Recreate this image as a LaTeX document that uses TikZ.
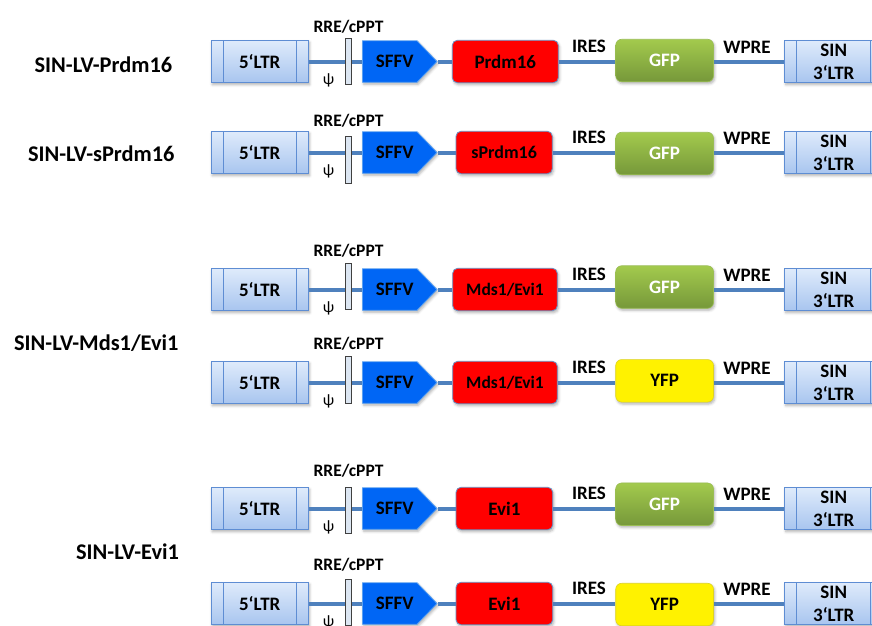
\documentclass[tikz,border=0pt]{standalone}
\usepackage{fontspec}
\setmainfont{Carlito}
\usetikzlibrary{shadows.blur,calc}
\definecolor{ltrtop}{HTML}{DFEBFB}
\definecolor{ltrbot}{HTML}{A8C5EF}
\definecolor{ltrline}{HTML}{5E8DD3}
\definecolor{bbone}{HTML}{4F81BD}
\definecolor{sffvfill}{HTML}{0066F5}
\definecolor{sffvline}{HTML}{5AA0F0}
\definecolor{gfptop}{HTML}{A3CA4D}
\definecolor{gfpbot}{HTML}{76983A}
\definecolor{gfpline}{HTML}{9ABD55}
\definecolor{barfill}{HTML}{DCE6F2}
\tikzset{
  fs/.style={font=\fontsize{#1}{#1}\selectfont\bfseries},
  shade box/.style={blur shadow={shadow xshift=1.2pt, shadow yshift=-2pt, shadow blur radius=2.5pt, shadow opacity=30}},
  ltrbox/.style={draw=ltrline, line width=0.8pt, top color=ltrtop, bottom color=ltrbot,
    minimum height=42.5pt, inner sep=0pt, fs=19, shade box,
    path picture={\draw[ltrline, line width=0.8pt]
      ([xshift=12.3pt]path picture bounding box.north west) -- ([xshift=12.3pt]path picture bounding box.south west)
      ([xshift=-12.3pt]path picture bounding box.north east) -- ([xshift=-12.3pt]path picture bounding box.south east);}},
  sinbox/.style={ltrbox, align=center, font=\fontsize{19}{23}\selectfont\bfseries},
  psi/.style={font=\fontsize{16}{16}\selectfont, inner sep=0pt},
  barbox/.style={draw=black!75, line width=0.8pt, fill=barfill, minimum width=6.5pt, minimum height=46.5pt, inner sep=0pt},
  sffvshape/.style={fill=sffvfill, draw=sffvline, line width=0.8pt, shade box},
  sffvtext/.style={minimum width=64.5pt, minimum height=41.5pt, inner sep=0pt, fs=19},
  redbox/.style={fill=red, draw=bbone!85, line width=0.8pt, rounded corners=5pt, minimum height=42.5pt, inner sep=0pt, fs=19, shade box},
  gfpbox/.style={top color=gfptop, bottom color=gfpbot, draw=gfpline, line width=0.6pt, rounded corners=6pt,
    minimum width=97.8pt, minimum height=42.5pt, inner sep=0pt, fs=19, text=white, shade box},
  yfpbox/.style={fill=yellow, draw=yellow!85!black, line width=0.6pt, rounded corners=6pt,
    minimum width=97.8pt, minimum height=42.5pt, inner sep=0pt, fs=19, shade box},
  lbl/.style={inner sep=0pt, fs=19},
  rrelbl/.style={inner sep=0pt, fs=17.5},
  title/.style={inner sep=0pt, fs=22.4},
  backbone/.style={draw=bbone, line width=4pt}
}
% #1 prefix, #2 backbone y, #3 red left, #4 red right, #5 red text,
% #6 reporter style, #7 reporter text, #8 RRE label offset, #9 bar top offset
\newcommand\vrow[9]{%
  \pgfmathsetmacro\rx{(#3+#4)/2}%
  \pgfmathsetmacro\rw{#4-#3}%
  \pgfmathsetmacro\by{#2+#9+23.25}%
  \node[ltrbox, minimum width=97.5pt] (#1ltr) at (259.75,#2) {5‘LTR};
  \node[sinbox, minimum width=98.5pt] (#1sin) at (833.75,#2) {SIN\\3‘LTR};
  \node[psi] (#1psi) at (328.5,#2+19) {ψ};
  \node[barbox] (#1bar) at (348.25,\by) {};
  \node[rrelbl] (#1rre) at (348.5,#2+#8) {RRE/cPPT};
  \path[sffvshape] (362.5,#2-20.75) -- (417,#2-20.75) -- (437,#2) -- (417,#2+20.75) -- (362.5,#2+20.75) -- cycle;
  \node[sffvtext] (#1sffv) at (394.75,#2) {SFFV};
  \node[redbox, minimum width=\rw pt] (#1red) at (\rx,#2) {#5};
  \node[#6] (#1rep) at (664.6,#2+\ryoff) {#7};
  \node[lbl] (#1ires) at (589,#2-15) {IRES};
  \node[lbl] (#1wpre) at (747,#2-14.5) {WPRE};
  \draw[backbone] (#1ltr.east) -- (#1bar.west |- #1ltr.east);
  \draw[backbone] (#1bar.east |- #1ltr.east) -- (#1sffv.west);
  \draw[backbone] ([xshift=11pt]#1sffv.east) -- (#1red.west);
  \draw[backbone] (#1red.east) -- (#1rep.west |- #1red.east);
  \draw[backbone] (#1rep.east |- #1red.east) -- (#1sin.west);
}
\begin{document}
\begin{tikzpicture}[x=1pt,y=-1pt]
\path[use as bounding box] (0,0) rectangle (872,625);
\clip (0,0) rectangle (872,625);
\def\ryoff{-1}
\vrow{a}{61.5}{452.3}{558.3}{Prdm16}{gfpbox}{GFP}{-34.5}{-23.5}
\def\ryoff{1}
\vrow{b}{152.5}{456}{552.3}{{\fontsize{18}{18}\selectfont sPrdm16}}{gfpbox}{GFP}{-31.5}{-16}
\def\ryoff{-2.5}
\vrow{c}{289.5}{452.7}{557.3}{{\fontsize{17.5}{17.5}\selectfont Mds1/Evi1}}{gfpbox}{GFP}{-38.5}{-26.5}
\def\ryoff{-1.7}
\vrow{d}{382.5}{452.7}{557.3}{{\fontsize{17.5}{17.5}\selectfont Mds1/Evi1}}{yfpbox}{YFP}{-38.5}{-26}
\def\ryoff{-4.3}
\vrow{e}{508.5}{456}{552.7}{Evi1}{gfpbox}{GFP}{-38}{-21.5}
\def\ryoff{1}
\vrow{f}{603.5}{456}{552.7}{Evi1}{yfpbox}{YFP}{-38.5}{-24.5}
\node[title] (t1) at (103.4,65) {SIN-LV-Prdm16};
\node[title] (t2) at (101.3,153.3) {SIN-LV-sPrdm16};
\node[title] (t3) at (96.3,342.7) {SIN-LV-Mds1/Evi1};
\node[title] (t4) at (127.5,552) {SIN-LV-Evi1};
\end{tikzpicture}
\end{document}
